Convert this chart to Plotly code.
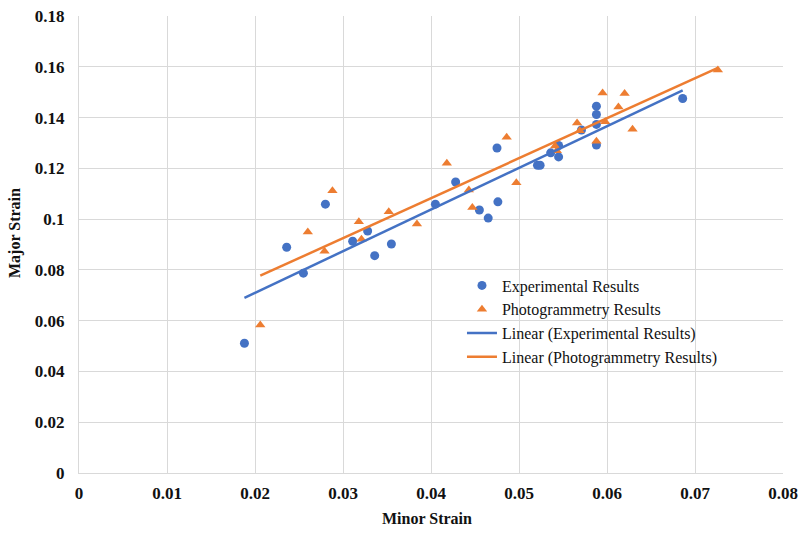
import numpy as np
import plotly.graph_objects as go

# Experimental results (minor strain, major strain)
exp_minor = [0.0188, 0.0236, 0.0255, 0.0280, 0.0311, 0.0328, 0.0336, 0.0355, 0.0405,
             0.0428, 0.0455, 0.0465, 0.0475, 0.0476, 0.0521, 0.0524, 0.0536, 0.0545,
             0.0545, 0.0571, 0.0588, 0.0588, 0.0588, 0.0588, 0.0686]
exp_major = [0.0511, 0.0889, 0.0787, 0.1059, 0.0913, 0.0953, 0.0856, 0.0902, 0.1059,
             0.1146, 0.1036, 0.1004, 0.1280, 0.1068, 0.1212, 0.1212, 0.1261, 0.1290,
             0.1245, 0.1351, 0.1445, 0.1412, 0.1373, 0.1292, 0.1475]

# Photogrammetry results
pho_minor = [0.0206, 0.0260, 0.0279, 0.0288, 0.0318, 0.0321, 0.0352, 0.0384, 0.0418,
             0.0443, 0.0447, 0.0486, 0.0497, 0.0541, 0.0543, 0.0566, 0.0569, 0.0588,
             0.0595, 0.0598, 0.0613, 0.0620, 0.0629, 0.0726]
pho_major = [0.0583, 0.0949, 0.0873, 0.1112, 0.0990, 0.0921, 0.1029, 0.0981, 0.1220,
             0.1115, 0.1046, 0.1322, 0.1143, 0.1288, 0.1269, 0.1379, 0.1348, 0.1307,
             0.1497, 0.1383, 0.1442, 0.1495, 0.1354, 0.1587]

x_ticks = [0, 0.01, 0.02, 0.03, 0.04, 0.05, 0.06, 0.07, 0.08]
x_tick_labels = ["0", "0.01", "0.02", "0.03", "0.04", "0.05", "0.06", "0.07", "0.08"]
y_ticks = [0, 0.02, 0.04, 0.06, 0.08, 0.1, 0.12, 0.14, 0.16, 0.18]
y_tick_labels = ["0", "0.02", "0.04", "0.06", "0.08", "0.1", "0.12", "0.14", "0.16", "0.18"]
x_title = "Minor Strain"
y_title = "Major Strain"

BLUE = "#4472C4"
ORANGE = "#ED7D31"
FONT = "Liberation Serif"
TXT = "#111111"


def fit_line(xs, ys):
    m, b = np.polyfit(xs, ys, 1)
    xx = np.array([min(xs), max(xs)])
    return xx, m * xx + b


ex_x, ex_y = fit_line(exp_minor, exp_major)
ph_x, ph_y = fit_line(pho_minor, pho_major)

fig = go.Figure()
fig.add_trace(go.Scatter(x=exp_minor, y=exp_major, mode="markers", name="Experimental Results",
                         marker=dict(symbol="circle", size=9, color=BLUE)))
fig.add_trace(go.Scatter(x=pho_minor, y=pho_major, mode="markers", name="Photogrammetry Results",
                         marker=dict(symbol="triangle-up", size=9, color=ORANGE)))
fig.add_trace(go.Scatter(x=ex_x, y=ex_y, mode="lines", name="Linear (Experimental Results)",
                         line=dict(color=BLUE, width=2.5)))
fig.add_trace(go.Scatter(x=ph_x, y=ph_y, mode="lines", name="Linear (Photogrammetry Results)",
                         line=dict(color=ORANGE, width=2.5)))

fig.update_layout(
    width=802, height=533,
    margin=dict(l=79, r=19, t=16, b=60),
    paper_bgcolor="white", plot_bgcolor="white",
    font=dict(family=FONT, color=TXT),
    legend=dict(x=0.544, y=0.4475, xanchor="left", yanchor="top",
                bgcolor="rgba(255,255,255,0)", font=dict(size=16, family=FONT, color=TXT),
                tracegroupgap=0, itemwidth=30),
    xaxis=dict(range=[0, 0.08], tickvals=x_ticks, ticktext=x_tick_labels,
               showgrid=True, gridcolor="#d9d9d9", gridwidth=1,
               showline=True, linecolor="#d9d9d9", linewidth=1,
               zeroline=False, ticks="", automargin=False, ticklabelstandoff=5,
               ticklabeloverflow="allow",
               tickfont=dict(size=17, family=FONT, color=TXT, weight="bold")),
    yaxis=dict(range=[0, 0.18], tickvals=y_ticks, ticktext=y_tick_labels,
               showgrid=True, gridcolor="#d9d9d9", gridwidth=1,
               showline=True, linecolor="#d9d9d9", linewidth=1,
               zeroline=False, ticks="", automargin=False, ticklabelstandoff=10,
               ticklabeloverflow="allow",
               tickfont=dict(size=17, family=FONT, color=TXT, weight="bold")),
    annotations=[
        dict(text="<b>" + x_title + "</b>", xref="paper", yref="paper", x=0.495, y=-0.099,
             xanchor="center", yanchor="middle", showarrow=False,
             font=dict(size=16, family=FONT, color=TXT)),
        dict(text="<b>" + y_title + "</b>", xref="paper", yref="paper", x=-0.091, y=0.525,
             xanchor="center", yanchor="middle", showarrow=False, textangle=-90,
             font=dict(size=16, family=FONT, color=TXT)),
    ],
)

fig.write_html("out.html", config={"displayModeBar": False},
               post_script="document.body.style.margin='0';document.body.style.overflow='hidden';")
